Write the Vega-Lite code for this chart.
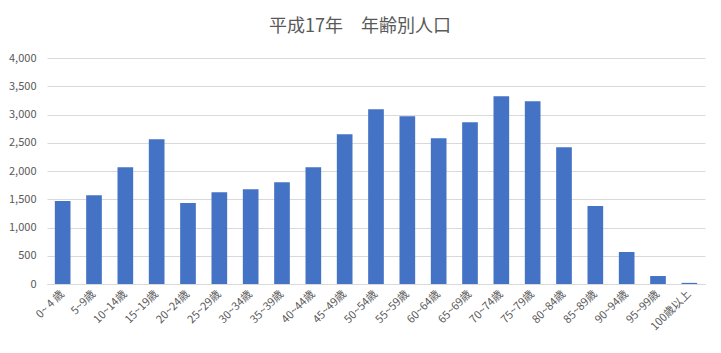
{
  "$schema": "https://vega.github.io/schema/vega-lite/v6.json",
  "autosize": "none",
  "width": 658,
  "height": 226,
  "padding": {"left": 47, "top": 58, "right": 16, "bottom": 69},
  "background": "white",
  "title": {
    "text": "平成17年　年齢別人口",
    "font": "Noto Sans CJK JP",
    "fontSize": 18,
    "fontWeight": "normal",
    "color": "#595959",
    "anchor": "middle",
    "dx": -16,
    "offset": 16
  },
  "data": {
    "values": [
      {"age": "0~ 4 歳", "pop": 1467},
      {"age": "5~9歳", "pop": 1573},
      {"age": "10~14歳", "pop": 2068},
      {"age": "15~19歳", "pop": 2563},
      {"age": "20~24歳", "pop": 1432},
      {"age": "25~29歳", "pop": 1626},
      {"age": "30~34歳", "pop": 1679},
      {"age": "35~39歳", "pop": 1803},
      {"age": "40~44歳", "pop": 2068},
      {"age": "45~49歳", "pop": 2652},
      {"age": "50~54歳", "pop": 3094},
      {"age": "55~59歳", "pop": 2970},
      {"age": "60~64歳", "pop": 2581},
      {"age": "65~69歳", "pop": 2864},
      {"age": "70~74歳", "pop": 3323},
      {"age": "75~79歳", "pop": 3235},
      {"age": "80~84歳", "pop": 2422},
      {"age": "85~89歳", "pop": 1379},
      {"age": "90~94歳", "pop": 566},
      {"age": "95~99歳", "pop": 141},
      {"age": "100歳以上", "pop": 20}
    ]
  },
  "mark": {"type": "bar", "color": "#4472C4"},
  "encoding": {
    "x": {
      "field": "age",
      "type": "nominal",
      "sort": null,
      "scale": {"paddingInner": 0.5, "paddingOuter": 0.25},
      "axis": {
        "title": null,
        "labelAngle": -45,
        "labelAlign": "right",
        "labelBaseline": "middle",
        "labelPadding": 8,
        "labelFont": "Noto Sans CJK JP",
        "labelFontSize": 11,
        "labelColor": "#595959",
        "ticks": false,
        "domainColor": "#d9d9d9",
        "domainWidth": 1
      }
    },
    "y": {
      "field": "pop",
      "type": "quantitative",
      "scale": {"domain": [0, 4000]},
      "axis": {
        "title": null,
        "values": [0, 500, 1000, 1500, 2000, 2500, 3000, 3500, 4000],
        "format": ",d",
        "domain": false,
        "ticks": false,
        "labelPadding": 11,
        "labelFont": "Noto Sans CJK JP",
        "labelFontSize": 11,
        "labelColor": "#595959",
        "gridColor": "#d9d9d9",
        "gridWidth": 1
      }
    }
  },
  "config": {"view": {"stroke": null}}
}
